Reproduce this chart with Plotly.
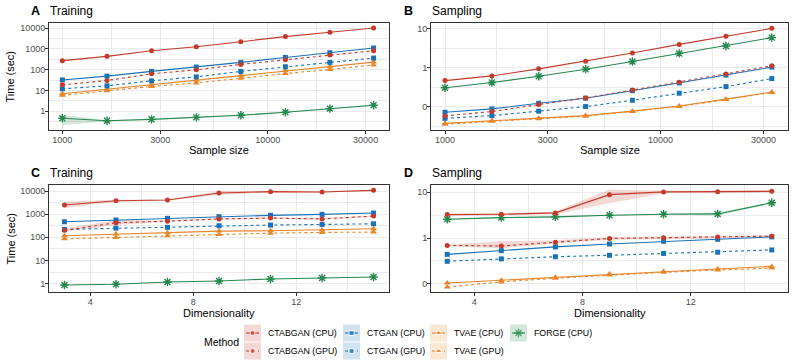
"""
Runtime benchmark: training / sampling time by sample size and dimensionality.
Four log-scale panels with a hand-built legend underneath (ggplot-like look).
"""

import plotly.graph_objects as go

W, H = 794, 361

# ---- data -------------------------------------------------------------------
sample_sizes = [1000, 1650, 2720, 4490, 7400, 12200, 20100, 32800]
dims = [3, 5, 7, 9, 11, 13, 15]

# A: training time vs sample size (sec)
A_CTABGAN_CPU = [270, 435, 810, 1260, 2200, 3870, 6200, 10000]
A_CTABGAN_GPU = [18.6, 30, 63, 98, 178, 300, 500, 810]
A_CTGAN_CPU = [32, 49, 82, 133, 223, 385, 650, 1090]
A_CTGAN_GPU = [12, 16.7, 29, 45, 82, 137, 223, 360]
A_TVAE_CPU = [6.9, 11.5, 18.6, 31, 52, 88, 142, 230]
A_TVAE_GPU = [5.9, 9.6, 15.5, 23, 39, 65, 102, 166]
A_FORGE_CPU = [0.46, 0.35, 0.41, 0.51, 0.64, 0.9, 1.34, 1.95]
A_FORGE_LO = [0.22, 0.33, 0.39, 0.48, 0.6, 0.85, 1.25, 1.8]
A_FORGE_HI = [0.66, 0.37, 0.43, 0.54, 0.68, 0.95, 1.45, 2.1]

# B: sampling time vs sample size (sec)
B_CTABGAN_CPU = [0.47, 0.62, 0.94, 1.48, 2.38, 3.96, 6.36, 10.2]
B_CTABGAN_GPU = [0.059, 0.076, 0.115, 0.17, 0.27, 0.43, 0.69, 1.12]
B_CTGAN_CPU = [0.073, 0.089, 0.124, 0.167, 0.26, 0.41, 0.65, 1.04]
B_CTGAN_GPU = [0.051, 0.06, 0.078, 0.102, 0.148, 0.224, 0.33, 0.53]
B_TVAE_CPU = [0.038, 0.044, 0.051, 0.06, 0.078, 0.106, 0.158, 0.24]
B_TVAE_GPU = [0.036, 0.043, 0.05, 0.058, 0.076, 0.103, 0.154, 0.235]
B_FORGE_CPU = [0.31, 0.42, 0.61, 0.92, 1.45, 2.33, 3.6, 5.9]

# C: training time vs dimensionality (sec)
C_CTABGAN_CPU = [2500, 3800, 4100, 8200, 9400, 9100, 10700]
C_CTABGAN_CPU_LO = [1800, 3400, 3850, 6800, 8900, 8700, 10200]
C_CTABGAN_CPU_HI = [3400, 4200, 4350, 10000, 9900, 9500, 11200]
C_CTABGAN_GPU = [200, 425, 500, 620, 680, 620, 830]
C_CTABGAN_GPU_LO = [175, 340, 470, 590, 640, 590, 790]
C_CTABGAN_GPU_HI = [240, 560, 540, 660, 720, 660, 880]
C_CTGAN_CPU = [470, 560, 660, 780, 890, 980, 1120]
C_CTGAN_GPU = [220, 250, 270, 316, 340, 360, 385]
C_TVAE_CPU = [117, 138, 158, 186, 192, 205, 235]
C_TVAE_GPU = [86, 99, 117, 133, 152, 163, 168]
C_FORGE_CPU = [0.87, 0.94, 1.18, 1.3, 1.59, 1.76, 1.95]

# D: sampling time vs dimensionality (sec)
D_CTABGAN_CPU = [3.26, 3.31, 3.55, 8.9, 10.2, 10.3, 10.5]
D_CTABGAN_CPU_LO = [3.1, 3.15, 3.3, 5.8, 9.6, 9.8, 10.0]
D_CTABGAN_CPU_HI = [3.4, 3.45, 3.8, 11.5, 10.8, 10.8, 11.0]
D_CTABGAN_GPU = [0.69, 0.67, 0.81, 0.98, 1.02, 1.06, 1.1]
D_CTABGAN_GPU_LO = [0.66, 0.6, 0.76, 0.92, 0.97, 1.0, 1.04]
D_CTABGAN_GPU_HI = [0.72, 0.85, 0.9, 1.05, 1.08, 1.12, 1.16]
D_CTGAN_CPU = [0.44, 0.53, 0.64, 0.74, 0.85, 0.94, 1.06]
D_CTGAN_GPU = [0.31, 0.35, 0.39, 0.42, 0.46, 0.49, 0.55]
D_TVAE_CPU = [0.104, 0.12, 0.138, 0.163, 0.186, 0.21, 0.24]
D_TVAE_GPU = [0.085, 0.11, 0.132, 0.155, 0.178, 0.2, 0.22]
D_FORGE_CPU = [2.57, 2.8, 2.9, 3.16, 3.31, 3.37, 5.9]
D_FORGE_LO = [2.5, 2.72, 2.82, 3.08, 3.22, 3.1, 5.7]
D_FORGE_HI = [2.65, 2.88, 2.98, 3.24, 3.4, 3.6, 6.1]

methods = ["CTABGAN (CPU)", "CTABGAN (GPU)", "CTGAN (CPU)", "CTGAN (GPU)",
           "TVAE (CPU)", "TVAE (GPU)", "FORGE (CPU)"]

# ---- styling ----------------------------------------------------------------
RED, BLUE, ORANGE, GREEN = "#C43B2B", "#1A73B8", "#E8862A", "#25894F"
STYLE = {
    "CTABGAN (CPU)": dict(color=RED, dash="solid", symbol="circle", size=5),
    "CTABGAN (GPU)": dict(color=RED, dash="dot", symbol="circle", size=5),
    "CTGAN (CPU)": dict(color=BLUE, dash="solid", symbol="square", size=5),
    "CTGAN (GPU)": dict(color=BLUE, dash="dot", symbol="square", size=5),
    "TVAE (CPU)": dict(color=ORANGE, dash="solid", symbol="triangle-up", size=6),
    "TVAE (GPU)": dict(color=ORANGE, dash="dot", symbol="triangle-up", size=6),
    "FORGE (CPU)": dict(color=GREEN, dash="solid", symbol="asterisk-open", size=7),
}
FONT = "Liberation Sans, Arial, sans-serif"


def rgba(hex_color, a):
    h = hex_color.lstrip("#")
    return f"rgba({int(h[0:2], 16)},{int(h[2:4], 16)},{int(h[4:6], 16)},{a})"


def add_band(fig, x, lo, hi, color, xa, ya):
    fig.add_trace(go.Scatter(
        x=list(x) + list(x)[::-1], y=list(hi) + list(lo)[::-1],
        fill="toself", fillcolor=rgba(color, 0.2), line=dict(width=0),
        mode="lines", hoverinfo="skip", showlegend=False, xaxis=xa, yaxis=ya))


def add_series(fig, x, y, name, xa, ya):
    s = STYLE[name]
    marker = dict(symbol=s["symbol"], size=s["size"], color=s["color"])
    if s["symbol"] == "asterisk-open":
        marker["line"] = dict(color=s["color"], width=1.4)
    fig.add_trace(go.Scatter(
        x=x, y=y, name=name, mode="lines+markers",
        line=dict(color=s["color"], width=1.1, dash=s["dash"]),
        marker=marker, showlegend=False, xaxis=xa, yaxis=ya))


fig = go.Figure()

panels = [
    ("x", "y", sample_sizes,
     [A_CTABGAN_CPU, A_CTABGAN_GPU, A_CTGAN_CPU, A_CTGAN_GPU, A_TVAE_CPU, A_TVAE_GPU, A_FORGE_CPU],
     [("FORGE (CPU)", A_FORGE_LO, A_FORGE_HI)]),
    ("x2", "y2", sample_sizes,
     [B_CTABGAN_CPU, B_CTABGAN_GPU, B_CTGAN_CPU, B_CTGAN_GPU, B_TVAE_CPU, B_TVAE_GPU, B_FORGE_CPU],
     []),
    ("x3", "y3", dims,
     [C_CTABGAN_CPU, C_CTABGAN_GPU, C_CTGAN_CPU, C_CTGAN_GPU, C_TVAE_CPU, C_TVAE_GPU, C_FORGE_CPU],
     [("CTABGAN (CPU)", C_CTABGAN_CPU_LO, C_CTABGAN_CPU_HI),
      ("CTABGAN (GPU)", C_CTABGAN_GPU_LO, C_CTABGAN_GPU_HI)]),
    ("x4", "y4", dims,
     [D_CTABGAN_CPU, D_CTABGAN_GPU, D_CTGAN_CPU, D_CTGAN_GPU, D_TVAE_CPU, D_TVAE_GPU, D_FORGE_CPU],
     [("CTABGAN (CPU)", D_CTABGAN_CPU_LO, D_CTABGAN_CPU_HI),
      ("CTABGAN (GPU)", D_CTABGAN_GPU_LO, D_CTABGAN_GPU_HI),
      ("FORGE (CPU)", D_FORGE_LO, D_FORGE_HI)]),
]

for xa, ya, xs, series, bands in panels:
    for name, lo, hi in bands:
        add_band(fig, xs, lo, hi, STYLE[name]["color"], xa, ya)
    # draw in reverse so CTABGAN ends on top, like the reference
    for name, ys in reversed(list(zip(methods, series))):
        add_series(fig, xs, ys, name, xa, ya)

# ---- axes -------------------------------------------------------------------
GRID = "#EBEBEB"


def px_x(p):
    return p / W


def px_y(p):
    return 1 - p / H


def axis_common():
    return dict(showline=True, mirror=True, linecolor="#333333", linewidth=1,
                ticks="outside", ticklen=3, tickcolor="#333333",
                ticklabelstandoff=-2,
                tickfont=dict(size=9, color="#4D4D4D", family=FONT),
                gridcolor=GRID, gridwidth=1, zeroline=False)


size_ticks = [1000, 3000, 10000, 30000]
size_minor = [1732, 5477, 17321]
dim_ticks = [4, 8, 12]
dim_minor = [6, 10, 14]
train_ticks = [1, 10, 100, 1000, 10000]
train_minor = [0.316, 3.16, 31.6, 316, 3162]
samp_ticks = [0.1, 1, 10]
samp_labels = ["0", "1", "10"]
samp_minor = [0.0316, 0.316, 3.16]

dom_left = [px_x(49), px_x(389)]
dom_right = [px_x(431), px_x(788)]
dom_top = [px_y(130), px_y(23)]
dom_bot = [px_y(292), px_y(185)]


def minor_grid(vals):
    return dict(tickmode="array", tickvals=vals, showgrid=True, gridcolor=GRID,
                gridwidth=0.5, ticks="")


fig.update_layout(
    xaxis=dict(axis_common(), domain=dom_left, anchor="y", type="log",
               range=[2.935, 4.591], tickvals=size_ticks,
               ticktext=[str(v) for v in size_ticks], minor=minor_grid(size_minor)),
    yaxis=dict(axis_common(), domain=dom_top, anchor="x", type="log",
               range=[-0.9, 4.24], tickvals=train_ticks,
               ticktext=[str(v) for v in train_ticks], minor=minor_grid(train_minor)),
    xaxis2=dict(axis_common(), domain=dom_right, anchor="y2", type="log",
                range=[2.935, 4.591], tickvals=size_ticks,
                ticktext=[str(v) for v in size_ticks], minor=minor_grid(size_minor)),
    yaxis2=dict(axis_common(), domain=dom_top, anchor="x2", type="log",
                range=[-1.59, 1.145], tickvals=samp_ticks, ticktext=samp_labels,
                minor=minor_grid(samp_minor)),
    xaxis3=dict(axis_common(), domain=dom_left, anchor="y3",
                range=[2.4, 15.6], tickvals=dim_ticks, minor=minor_grid(dim_minor)),
    yaxis3=dict(axis_common(), domain=dom_bot, anchor="x3", type="log",
                range=[-0.36, 4.26], tickvals=train_ticks,
                ticktext=[str(v) for v in train_ticks], minor=minor_grid(train_minor)),
    xaxis4=dict(axis_common(), domain=dom_right, anchor="y4",
                range=[2.4, 15.6], tickvals=dim_ticks, minor=minor_grid(dim_minor)),
    yaxis4=dict(axis_common(), domain=dom_bot, anchor="x4", type="log",
                range=[-1.18, 1.16], tickvals=samp_ticks, ticktext=samp_labels,
                minor=minor_grid(samp_minor)),
    # pixel-space axis for the legend strip only
    xaxis5=dict(domain=[0, 1], range=[0, W], visible=False, anchor="y5", fixedrange=True),
    yaxis5=dict(domain=[0, px_y(318)], range=[H, 318], visible=False, anchor="x5",
                fixedrange=True),
)

# ---- titles -----------------------------------------------------------------
def text(x, y, s, size, **kw):
    fig.add_annotation(x=px_x(x), y=px_y(y), xref="paper", yref="paper", text=s,
                       showarrow=False, font=dict(size=size, color="black", family=FONT),
                       borderpad=0, **kw)


for letter, title, lx, tx, ty in [("A", "Training", 30, 49, 11), ("B", "Sampling", 403, 431, 11),
                                  ("C", "Training", 30, 49, 173), ("D", "Sampling", 403, 431, 173)]:
    text(lx, ty, f"<b>{letter}</b>", 12.5, xanchor="left", yanchor="middle")
    text(tx, ty, title, 12, xanchor="left", yanchor="middle")

text((49 + 389) / 2, 150, "Sample size", 11, xanchor="center", yanchor="middle")
text((431 + 788) / 2, 150, "Sample size", 11, xanchor="center", yanchor="middle")
text((49 + 389) / 2, 313, "Dimensionality", 11, xanchor="center", yanchor="middle")
text((431 + 788) / 2, 313, "Dimensionality", 11, xanchor="center", yanchor="middle")
text(10, (23 + 130) / 2, "Time (sec)", 11, xanchor="center", yanchor="middle", textangle=-90)
text(10, (185 + 292) / 2, "Time (sec)", 11, xanchor="center", yanchor="middle", textangle=-90)

# ---- legend (drawn by hand: 4 columns x 2 rows, keys with ribbon tint) ------
text(203, 342, "Method", 10.5, xanchor="left", yanchor="middle")
legend_slots = {
    "CTABGAN (CPU)": (244, 333), "CTABGAN (GPU)": (244, 351),
    "CTGAN (CPU)": (343, 333), "CTGAN (GPU)": (343, 351),
    "TVAE (CPU)": (430, 333), "TVAE (GPU)": (430, 351),
    "FORGE (CPU)": (510, 333),
}
for name, (kx, ky) in legend_slots.items():
    s = STYLE[name]
    fig.add_shape(type="rect", xref="x5", yref="y5", x0=kx, x1=kx + 17,
                  y0=ky - 8.5, y1=ky + 8.5, fillcolor=rgba(s["color"], 0.2),
                  line=dict(width=0), layer="below")
    marker = dict(symbol=s["symbol"], size=[0, s["size"], 0], color=s["color"])
    if s["symbol"] == "asterisk-open":
        marker["line"] = dict(color=s["color"], width=1.4)
    fig.add_trace(go.Scatter(
        x=[kx + 2, kx + 8.5, kx + 15], y=[ky, ky, ky], mode="lines+markers",
        line=dict(color=s["color"], width=1.1, dash=s["dash"]), marker=marker,
        showlegend=False, hoverinfo="skip", xaxis="x5", yaxis="y5"))
    text(kx + 23, ky, name, 8.8, xanchor="left", yanchor="middle")

fig.update_layout(
    width=W, height=H, margin=dict(l=0, r=0, t=0, b=0),
    paper_bgcolor="white", plot_bgcolor="rgba(0,0,0,0)", showlegend=False,
    font=dict(family=FONT), hovermode=False,
)

# page body has a default 8px margin; drop it so the figure sits at (0, 0)
fig.write_html("out.html", config={"displayModeBar": False},
               post_script="document.body.style.margin='0px';")
